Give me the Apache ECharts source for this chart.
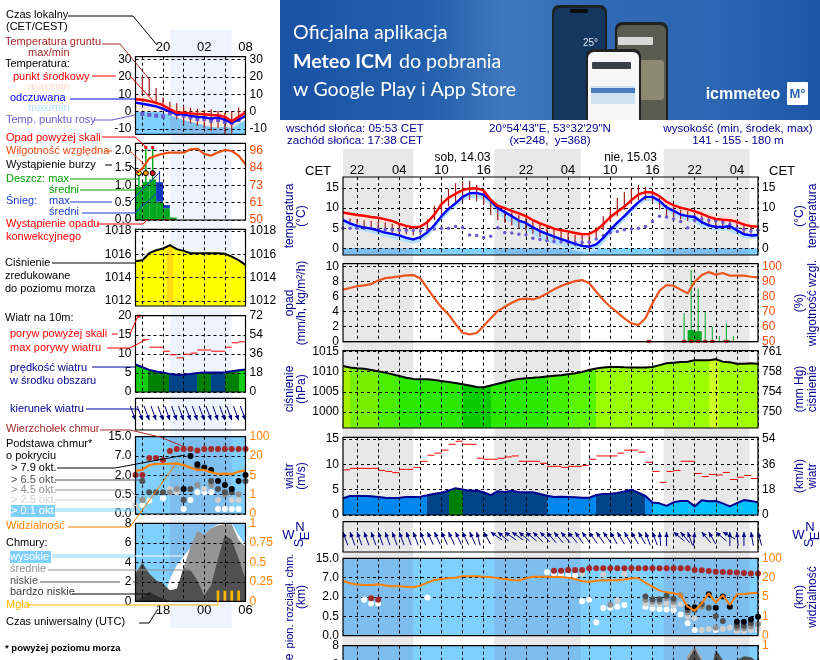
<!DOCTYPE html>
<html><head><meta charset="utf-8">
<style>html,body{margin:0;padding:0;background:#fff}#c{width:820px;height:660px}</style>
<script src="https://cdn.jsdelivr.net/npm/echarts@6/dist/echarts.min.js"></script>
</head><body><div id="c"></div>
<script>
// ---------- tick labels ----------
const cetTicks = [2,8,14,20,26,32,38,44,50,56];
const cetLabels = ['22','04','10','16','22','04','10','16','22','04'];
const gridHoursR = [2,5,8,11,14,17,20,23,26,29,32,35,38,41,44,47,50,53,56,59];
const gridHoursL = [1,4,7,10,13,16];
const cetLabelsL = ['20','02','08'];
const utcLabelsL = ['18','00','06'];
const baseKmLabels = ['0.0','0.5','2.0','7.0','15.0'];
const visKmLabels = ['0','1','5','20','100'];
const hPaTicks = [1000,1005,1010,1015];
const mmHgLabels = ['750','754','758','761'];
const nightSpansR = [[0,10],[21.5,33.8],[45.6,57.8]];
const nightSpanL = [5,14];

// ---------- right panel (60 h) ----------
const tempR = [8.9,8.6,8.3,8.1,7.8,7.6,7.2,6.8,6.1,5.6,5.2,5.4,6.5,8.4,11.0,12.6,13.6,14.5,14.9,14.9,14.4,12.1,10.6,10.0,9.3,8.7,8.0,7.0,6.2,5.6,4.9,4.5,4.2,3.8,3.5,3.6,4.5,6.0,7.8,9.1,10.4,12.0,13.4,14.0,13.9,13.0,11.6,10.7,10.1,9.7,9.2,8.6,7.8,7.3,7.1,7.0,6.6,5.9,5.5,5.4];
const feelR = [7.0,6.2,5.6,5.2,4.9,4.4,3.9,3.6,3.2,2.6,2.2,2.8,4.0,5.8,8.0,9.8,11.2,12.8,13.7,13.8,13.3,11.8,10.0,9.0,8.0,6.9,6.3,5.2,4.3,3.6,2.9,2.3,1.7,1.1,0.6,0.4,1.0,2.6,4.6,6.4,8.0,9.8,11.5,12.8,12.8,11.8,10.2,9.3,8.4,8.0,7.8,6.5,5.7,5.3,5.3,5.5,4.5,3.5,3.2,3.3];
const tempHiR = [9.0,8.7,8.4,8.2,7.9,7.7,7.3,6.9,6.3,5.9,5.6,5.8,6.9,8.9,11.5,12.8,13.8,14.7,15.2,15.2,14.6,12.4,10.9,10.2,9.6,9.0,8.4,7.4,6.6,6.0,5.3,4.9,4.5,4.1,3.8,3.9,4.8,6.3,8.1,9.4,10.7,12.3,13.7,14.3,14.2,13.3,11.9,11.0,10.4,10.1,9.7,9.4,8.8,8.4,8.2,8.0,7.5,6.8,6.2,6.0];
const tempLoR = [8.0,7.6,7.2,6.9,6.6,6.3,5.9,5.5,5.0,4.7,4.4,4.6,5.7,7.8,10.4,11.8,12.8,13.8,14.4,14.4,13.8,11.4,9.6,8.6,7.8,7.0,6.4,5.6,4.8,4.2,3.6,3.2,2.9,2.6,2.4,2.5,3.5,5.1,7.0,8.4,9.7,11.4,12.8,13.4,13.3,12.3,10.8,9.8,9.0,8.6,8.2,7.8,7.0,6.6,6.5,6.5,5.8,5.1,4.9,4.9];
const feelHiR = [7.2,6.4,5.8,5.4,5.1,4.6,4.1,3.8,3.4,2.8,2.4,3.0,4.2,6.0,8.2,10.0,11.4,13.0,13.9,14.0,13.5,12.0,10.2,9.2,8.2,7.1,6.5,5.4,4.5,3.8,3.1,2.5,1.9,1.3,0.8,0.6,1.2,2.8,4.8,6.6,8.2,10.0,11.7,13.0,13.0,12.0,10.4,9.6,8.8,8.4,8.2,7.0,6.1,5.7,5.8,6.0,5.0,4.0,3.7,3.8];
const feelLoR = [6.2,5.3,4.7,4.2,3.8,3.3,2.8,2.4,2.0,1.5,1.1,1.6,2.9,4.7,7.0,8.8,10.2,11.8,12.5,12.5,12.0,10.4,8.4,7.3,6.1,5.0,4.4,3.3,2.4,1.7,1.0,0.5,-0.1,-0.6,-1.0,-1.2,-0.5,1.2,3.3,5.2,6.9,8.8,10.5,11.8,11.8,10.8,9.2,8.2,7.4,6.9,6.4,5.2,4.6,4.4,4.4,4.2,3.4,2.5,2.4,2.5];
const dewR = [5.0,5.0,5.0,5.0,4.9,4.8,4.7,4.6,4.5,4.5,4.4,4.3,4.5,4.8,4.9,5.0,5.4,5.2,3.3,3.2,2.7,3.0,5.1,3.9,3.8,3.5,3.3,2.5,2.2,1.9,1.7,1.6,1.5,1.4,1.5,1.5,2.3,3.2,3.9,4.2,4.6,4.8,5.0,5.4,6.7,8.0,7.8,7.3,6.7,5.1,7.0,7.3,7.0,6.8,6.5,6.0,5.0,4.7,4.3,4.5];
const groundMaxR = [null,7.5,7.3,7.0,6.8,6.6,6.4,6.1,6.0,5.8,5.5,5.6,7.2,10.6,12.6,14.8,16.2,16.7,16.8,15.8,14.5,12.0,10.5,9.6,9.0,8.2,7.6,6.9,6.0,5.4,4.8,4.2,3.8,3.4,3.2,3.4,5.2,8.0,10.0,12.5,14.0,15.0,15.8,15.3,14.5,12.7,10.8,10.2,9.6,9.2,8.6,8.2,7.6,7.4,7.2,6.9,6.7,6.3,5.8,5.4];
const groundMinR = [null,5.8,5.4,5.0,4.7,4.5,4.2,3.9,3.7,3.5,3.2,3.4,4.6,7.0,7.9,10.4,11.2,11.7,12.0,11.7,10.8,8.3,7.0,6.3,5.7,5.0,4.4,3.6,2.9,2.3,1.7,1.2,0.8,0.5,0.3,0.7,2.2,4.6,6.6,8.0,9.6,11.0,12.0,12.0,11.4,9.6,8.0,7.6,7.2,6.8,6.4,6.0,5.5,5.2,5.0,4.6,4.2,3.8,3.6,3.4];
const humidR = [84.7,85.8,87.0,87.6,88.4,90.8,92.4,92.9,93.5,94.2,94.4,92.2,85.6,78.9,72.9,68.2,61.8,56.0,54.9,55.8,60.4,65.6,70.4,73.3,76.0,78.2,78.7,78.2,79.6,82.2,84.9,87.1,88.9,90.4,91.1,89.1,83.3,77.8,73.3,69.6,65.6,62.2,61.1,65.6,75.6,84.0,87.8,87.3,84.7,82.2,90.0,94.4,96.4,94.7,95.8,94.0,94.0,94.0,93.3,92.9];
const rainHoursR = [48,49,50,51,52,53,54,55];
const rainMaxR = [3.8,9.55,7.1,4.0,2.0,0.75,2.45,0.75];
const rainMeanR = [0.1,1.55,1.4,0.1,0.1,0.05,0.2,0.05];
const convectiveR = [43.5,48.5,49.5,50.5,51.5,52.5,54.5];
const pressR = [1011.4,1011.0,1010.8,1010.7,1010.4,1010.1,1009.75,1009.35,1008.9,1008.5,1008.2,1008.1,1008.1,1007.95,1007.7,1007.45,1007.2,1006.9,1006.55,1006.2,1006.15,1006.55,1007.0,1007.45,1007.85,1008.2,1008.35,1008.45,1008.6,1008.8,1008.95,1009.1,1009.35,1009.6,1009.9,1010.4,1010.75,1011.0,1011.15,1011.15,1011.05,1011.0,1011.0,1011.0,1011.15,1011.6,1012.05,1012.2,1012.35,1012.45,1012.8,1012.8,1012.8,1013.05,1012.45,1012.3,1011.95,1011.95,1012.05,1011.95];
const pressBandsR = [[1,'#a4f000'],[5,'#77ee00'],[8,'#4cee00'],[17,'#2ce800'],[21,'#08cc00'],[29,'#2ce800'],[32,'#44f000'],[36,'#5cf500'],[52,'#99ff00'],[53.4,'#ccff22'],[59,'#a0ff00']];
const windR = [3.3,3.75,3.75,3.75,3.7,3.55,3.4,3.35,3.4,3.55,3.55,3.6,3.9,4.2,4.4,4.8,5.3,5.05,4.8,4.85,4.5,3.9,4.7,4.55,4.8,4.5,4.5,4.5,4.15,3.8,3.55,3.6,3.55,3.5,3.4,3.4,3.95,4.15,4.2,4.35,4.65,5.0,4.4,3.75,2.45,2.3,1.8,2.5,2.75,2.75,1.7,2.9,2.7,2.75,2.3,1.7,2.35,2.95,2.75,2.5];
const gustR = [8.9,9.2,9.2,9.2,9.2,8.8,8.6,8.35,9.0,9.0,9.4,10.6,11.8,12.2,12.8,13.95,14.55,13.95,13.95,11.2,11.0,11.0,11.2,11.45,11.65,10.6,10.6,10.6,10.2,9.6,9.6,9.4,9.6,9.6,9.8,11.0,11.65,11.65,11.65,12.2,12.8,12.8,12.4,10.4,8.6,6.45,8.6,8.8,10.6,10.6,8.2,7.6,8.0,7.9,8.4,7.0,7.45,7.8,7.2];
const windBandsR = [[12,'#0088ee'],[15,'#004488'],[17,'#008000'],[29,'#004488'],[36,'#0088ee'],[43,'#004488'],[44,'#0088ee'],[59,'#00c0ff']];
const windFromR = [160,160,160,160,160,160,160,160,160,160,160,158,155,155,155,155,155,155,155,165,150,125,130,125,125,130,130,135,135,140,140,140,140,145,145,145,145,145,150,150,150,150,150,160,160,175,180,130,140,160,185,140,150,130,120,180,175,180,170,165];
const topR = [[4,1.93],[5,1.86],[30,3.36],[31,3.36],[32,3.4],[33,3.4],[34,3.4],[35,3.48],[36,3.48],[37,3.48],[38,3.48],[39,3.48],[40,3.48],[41,3.48],[42,3.48],[43,3.48],[44,3.48],[45,3.48],[46,3.48],[47,3.48],[48,3.48],[49,3.48],[50,3.4],[51,3.38],[52,3.35],[53,3.31],[54,3.29],[55,3.28],[56,3.26],[57,3.24],[58,3.22],[59,3.21]];
const base79R = [[49,1.47],[50,1.47],[52,2.14],[53,1.45],[54,2.02],[55,1.5],[56,0.72],[57,0.72],[58,0.84],[59,0.98]];
const base65R = [[43,2.02],[44,1.88],[45,1.88],[46,2.07],[47,1.91],[49,1.33],[50,1.33],[51,1.62],[52,1.45],[53,1.0],[54,0.76],[56,0.52],[57,0.52],[58,0.64]];
const base45R = [[38,1.6],[43,1.84],[44,1.76],[45,1.76],[46,1.93],[47,1.76],[48,2.1],[49,1.2],[51,1.5],[53,0.41],[56,0.38],[57,0.38],[58,0.47],[59,0.6]];
const base25R = [[34,3.2],[37,3.15],[38,1.6],[39,1.8],[40,3.2],[43,1.67],[44,1.62],[45,1.62],[46,1.67],[47,1.55],[48,1.62],[49,0.98],[50,0.9],[51,0.29],[52,0.34],[54,0.34],[55,0.41],[56,0.24],[57,0.24],[58,0.29],[59,0.35]];
const base01R = [[3,1.86],[4,1.67],[5,1.67],[12,1.97],[29,3.28],[30,3.21],[31,3.14],[32,3.1],[33,3.1],[34,1.78],[35,1.86],[36,0.69],[37,1.43],[38,1.45],[39,1.5],[40,1.59],[43,1.5],[44,1.41],[45,1.38],[46,1.36],[47,1.33],[48,1.1],[49,0.64],[50,0.29],[53,0.29],[59,0.3]];
const visR = [2.84,2.71,2.64,2.62,2.62,2.66,2.59,2.55,2.55,2.53,2.5,2.59,2.74,2.88,2.93,2.97,3.0,3.07,3.07,3.07,3.05,3.03,2.97,2.93,2.88,2.86,2.97,3.05,3.05,3.05,3.03,3.03,3.0,2.93,2.81,2.79,2.84,2.86,2.86,2.86,2.91,2.97,2.97,2.74,2.53,2.33,2.24,2.19,2.1,1.5,1.29,1.67,2.19,1.71,2.1,1.59,2.14,2.16,2.19,2.22];
const cloudMidR = [0,0,0,0,0,0,0,0,0,0,0,0,0,0,0,0,0,0,0,0,0,0,0,0,0,0,0,0,0,0,0,0,0,0,0,0,0,0,0,0,0,0,0,0,0,0,0,2.0,4.5,7.0,8.0,6.7,4.5,6.0,5.0,3.0,2.0,2.0,2.0,2.0];
const cloudLowR = [0,0,0,0,0,0,0,0,0,0,0,0,0,0,0,0,0,0,0,0,0,0,0,0,0,0,0,0,0,0,0,0,0,0,0,0,0,0,0,0,0,0,0,0,0,0,0,0,2.0,6.5,7.7,6.3,4.5,7.6,6.5,4.0,6.5,6.9,6.8,6.3];

// ---------- left legend panel (16 h) ----------
const tempL = [7.1,6.8,6.0,5.0,3.7,1.4,-0.6,-0.6,-1.0,-1.4,-1.5,-1.9,-2.1,-3.0,-5.5,-3.0,-0.5];
const feelL = [5.2,4.5,3.8,3.0,1.6,0.2,-1.6,-1.6,-2.4,-3.0,-3.2,-4.0,-3.4,-4.6,-6.5,-4.5,-2.5];
const tempHiL = [10,9.5,9,7.5,6,4,3,2.5,2,1.5,1,0.5,0.3,0.2,-0.8,0,2];
const skyTopL = [0,0,0,0,-0.5,-2,-3.5,-5,-6,-7,-8,-9,-9.3,-8.5,-9.5,-7,-5];
const dewL = [null,-1.35,-1.9,-2.3,-2.7,-1,-1.35,-2.3,-3.3,-4.2,-4.2,-5.2,-4.8,-5.8,-6.5,-4.8,null];
const groundMaxL = [null,20.6,19,13.5,8.1,5.6,4.8,3.3,2.3,1.7,1,1.4,0.4,-0.6,0.4,2.3,null];
const groundMinL = [null,10,9,4.2,2.3,1.5,-4.4,-7.3,-6.8,-8.3,-9.3,-11.2,-9.3,-13,-12.5,-4.4,null];
const humidL = [81,84.3,90.9,92.7,94,94.7,94.7,94.7,96.9,97.3,93.8,92.7,94.9,96.5,95.8,92.7,87];
const rainMeanL = [0.96,1.1,1.17,0.53,0.34,0.07];
const snowMeanL = [0,0,0,0.56,0.09,0];
const rainMaxL = [1.35,2.1,2.1];
const snowMaxHourL = 3; const snowMaxL = 1.41;
const thunderColors = ['#ffee00','#ff9900','#e81010'];
const overScaleHoursL = [1.5,2.5];
const pressL = [1015.4,1015.5,1016.1,1016.35,1016.5,1016.8,1016.45,1016.3,1016.1,1016.1,1016.1,1016.1,1016.1,1016.05,1015.8,1015.5,1015.1];
const pressBandsL = [[4.6,'#ffff00'],[5.4,'#ffd814'],[16,'#ffff00']];
const windL = [7.2,6.5,5.8,5.35,5.1,4.75,4.5,4.5,4.75,5,5.1,5.1,5.1,5.2,5.45,5.7,5.9];
const gustL = [null,13.7,11.75,11.75,10.7,9.75,8.95,9.9,10.2,11,11,10.7,10.7,11.75,12.9,13.15];
const windBandsL = [[1.8,'#11cc11'],[4.9,'#008000'],[8.9,'#004488'],[11,'#008000'],[13,'#004488'],[15,'#008000'],[16,'#11cc11']];
const windFromL = [340,340,340,340,340,340,340,340,340,340,340,340,340,340,340,340,340];
const topL = [[0,2.02],[1,2.02],[2,2.9],[3,2.9],[4,2.79],[5,3.26],[6,3.36],[7,3.36],[8,3.36],[9,3.28],[10,3.36],[11,3.36],[12,3.36],[13,3.36],[14,3.36],[15,3.36],[16,3.36]];
const base79L = [[7,1.29],[8,3.0],[9,2.57],[10,2.4],[11,2.28],[12,1.71],[13,1.5],[14,1.29],[15,1.71],[16,2.02]];
const base65L = [[1,1.71],[2,1.12],[3,1.12],[4,1.12],[7,0.72],[8,1.29],[9,2.4],[11,1.71],[12,1.29],[13,1.12],[14,1.12],[16,1.71]];
const base45L = [[1,0.72],[5,1.12],[6,1.29],[9,1.5],[11,1.5],[13,1.02],[15,1.02]];
const base25L = [[0,0.43],[5,1.29],[6,1.12],[10,1.29],[12,0.72],[14,0.72],[15,0.72]];
const base01L = [[1,0.47],[2,0.69],[4,0.81],[5,1.12],[7,0.26],[8,0.72],[9,1.12],[10,1.12],[11,1.12],[12,0.26],[13,0.26],[14,0.26],[15,0.26]];
const visL = [2.24,2.28,2.53,2.59,2.6,2.6,2.62,2.53,2.4,2.28,2.28,2.16,2.07,2.09,2.07,2.19,2.26];
const cloudHighL = [0,0,0,0,0,2.3,3.7,4.6,5.5,5.8,6.3,7.5,7.9,8,8,6.8,5.8];
const cloudMidL = [0,0,0,0,0,0,0.96,3.5,5.6,7.2,6.8,7.5,7.8,7.9,7.9,6.3,5.6];
const cloudLowL = [2.85,3.95,2.85,2.16,1.8,1.13,1.3,3.4,3.2,2.16,0.62,1.65,4.4,6.8,6.3,4.4,2.3];
const cloudVeryLowL = [0,0.45,0.96,0.6,0.27,0,0,0,0,0,0,0,0,0,0,0,0];
const fogHoursL = [12,13,14,15];
const fogL = [1.1,1.1,1.1,1.1];

// ---------- layout ----------
const FONT = '"Liberation Sans",Arial,sans-serif';
const NAVY = '#000090', ORANGE = '#ff8000', HUM = '#f04a10';
const R = {x:343,w:415,n:59,lines:gridHoursR}, L = {x:135.5,w:110,n:16,lines:gridHoursL};
const panels = [[R,177,78],[R,263.7,78],[R,350.7,77.3],[R,437.3,77.7],[R,521.7,30.3],[R,558.3,77.4],[R,645.7,77.3],
                [L,56.7,77.6],[L,143.3,76.7],[L,229.3,76.7],[L,315.7,76.3],[L,398.3,31.7],[L,436.7,77.3],[L,523.3,78]];
const grid=[], xAxis=[], yAxis=[], series=[];
panels.forEach(([P,top,h])=>{
  const g=grid.length;
  grid.push({left:P.x,top,width:P.w,height:h,show:false,outerBoundsMode:'none'});
  xAxis.push({type:'value',gridIndex:g,min:0,max:P.n,z:5,axisLine:{show:false},
    axisTick:{show:false,customValues:P.lines},axisLabel:{show:false},
    splitLine:{show:true,lineStyle:{color:'#000',type:[3,3],width:1}}});
});
function yAxes(g,lo,hi,ticksL,labL,ticksR,labR,colR,loR,hiR){
  const mk=(pos,ticks,labs,col,split,a,b)=>({type:'value',gridIndex:g,position:pos,min:a,max:b,z:5,
    axisLine:{show:false},axisTick:{show:false,customValues:ticks||[]},
    axisLabel:{show:!!ticks,customValues:ticks||[],margin:4,color:col||'#000',fontFamily:FONT,fontSize:12,
      formatter:v=>{const i=(ticks||[]).indexOf(v);return labs&&i>=0?labs[i]:String(v);}},
    splitLine:{show:split,lineStyle:{color:'#000',type:[3,3],width:1}}});
  yAxis.push(mk('left',ticksL,labL,'#000',!!ticksL,lo,hi));
  yAxis.push(mk('right',ticksR,labR,colR,false,loR===undefined?lo:loR,hiR===undefined?hi:hiR));
}
const POS=[0,1,2,3,4];
yAxes(0,-1.67,17.75,[0,5,10,15],null,[0,5,10,15],null);
yAxes(1,0,10.4,[0,2,4,6,8,10],null,[50,60,70,80,90,100],null,HUM,50,102);
yAxes(2,996.07,1015.16,hPaTicks,null,hPaTicks,mmHgLabels);
yAxes(3,0,15.33,[0,5,10,15],null,[0,5,10,15],['0','18','36','54']);
yAxes(4,0,1);
yAxes(5,0,4,POS,baseKmLabels,POS,visKmLabels,ORANGE);
yAxes(6,0,8,[0,2,4,6,8],null,[8],['1'],ORANGE);
yAxes(7,-13,31.5,[-10,0,10,20,30],null,[-10,0,10,20,30],null);
yAxes(8,0,2.21,[0,0.5,1,1.5,2],['0.0','0.5','1.0','1.5','2.0'],[50,61.5,73,84.5,96],['50','61','73','84','96'],HUM,50,100.9);
yAxes(9,1011.57,1018.15,[1012,1014,1016,1018],null,[1012,1014,1016,1018],null);
yAxes(10,0,20,[0,5,10,15,20],null,[0,5,10,15,20],['0','18','36','54','72']);
yAxes(11,0,1);
yAxes(12,0,4,POS,baseKmLabels,POS,visKmLabels,ORANGE);
yAxes(13,0,8,[0,2,4,6,8],null,[0,2,4,6,8],['0','0.25','0.5','0.75','1'],ORANGE);
// hour labels
const hourLab=(ax,pos,ticks,labs,fs,m)=>{ax.position=pos;ax.axisLabel={show:true,customValues:ticks,margin:m,color:'#000',fontFamily:FONT,fontSize:fs||12,
  formatter:v=>labs[ticks.indexOf(v)]||''};};
hourLab(xAxis[0],'top',cetTicks,cetLabels,13,0);
hourLab(xAxis[7],'top',[4,10,16],cetLabelsL,13,3);
hourLab(xAxis[13],'bottom',[4,10,16],utcLabelsL,13,3);

// ---------- series helpers ----------
const ax=(g,right)=>({xAxisIndex:g,yAxisIndex:g*2+(right?1:0)});
const idx=(a,s)=>a.map((v,i)=>[i+(s||0),v]);
function line(g,ys,color,width,z,right){series.push({type:'line',...ax(g,right),data:idx(ys),showSymbol:false,symbol:'none',silent:true,
  lineStyle:{color,width},z:z||6,animation:false,connectNulls:false});}
function area(g,ys,fill,z){series.push({type:'line',...ax(g),data:idx(ys),showSymbol:false,symbol:'none',silent:true,
  lineStyle:{width:0,opacity:0},areaStyle:{color:fill,opacity:1},z:z||1,animation:false});}
function stepFill(bands,n){const s=[];let p=0;bands.forEach(([e,c])=>{s.push({offset:p/n,color:c},{offset:e/n,color:c});p=e;});
  return new echarts.graphic.LinearGradient(0,0,1,0,s);}
function band(g,from,lo,hi,color,z){ // polygon between two lists
  series.push({type:'custom',...ax(g),data:[[from,0]],z:z||1,silent:true,animation:false,clip:true,
    renderItem:(p,api)=>{const pts=[];hi.forEach((v,i)=>pts.push(api.coord([i+from,v])));
      for(let i=lo.length-1;i>=0;i--)pts.push(api.coord([i+from,lo[i]]));
      return {type:'polygon',shape:{points:pts},style:{fill:color}};}});}
function rects(g,rows,color,z,right){ // rows: x0,y0,x1,y1
  series.push({type:'custom',...ax(g,right),data:rows,z:z||1,silent:true,animation:false,
    renderItem:(p,api)=>{const a=api.coord([api.value(0),api.value(1)]),b=api.coord([api.value(2),api.value(3)]);
      return {type:'rect',shape:{x:a[0],y:b[1],width:b[0]-a[0],height:a[1]-b[1]},style:{fill:color}};}});}
function segs(g,rows,color,w,z){ // rows: x0,y0,x1,y1
  series.push({type:'custom',...ax(g),data:rows,z:z||6,silent:true,animation:false,
    renderItem:(p,api)=>{const a=api.coord([api.value(0),api.value(1)]),b=api.coord([api.value(2),api.value(3)]);
      return {type:'line',shape:{x1:a[0],y1:a[1],x2:b[0],y2:b[1]},style:{stroke:color,lineWidth:w}};}});}
function dots(g,rows,color,size,sym,z,border){series.push({type:'scatter',...ax(g),data:rows,symbol:sym||'circle',symbolSize:size,silent:true,animation:false,
  itemStyle:{color,opacity:1,borderColor:border||color,borderWidth:border?1:0},z:z||6});}
function arrows(g,dirs,yVal,len){series.push({type:'custom',...ax(g),data:dirs.map((d,i)=>[i,yVal,d]),z:6,silent:true,animation:false,
  renderItem:(p,api)=>{const c=api.coord([api.value(0),api.value(1)]),t=(api.value(2)+180)*Math.PI/180;
    const dx=Math.sin(t),dy=-Math.cos(t),tx=c[0]-dx*len,ty=c[1]-dy*len,bx=c[0]-dx*5,by=c[1]-dy*5;
    return {type:'group',children:[
      {type:'line',shape:{x1:tx,y1:ty,x2:c[0],y2:c[1]},style:{stroke:'#000080',lineWidth:1}},
      {type:'polygon',shape:{points:[[c[0],c[1]],[bx-dy*2.2,by+dx*2.2],[bx+dy*2.2,by-dx*2.2]]},style:{fill:'#000080'}}]};}});}
const BLUE='#80d0ff', TINT='#7dbeee';

// ---------- right: temperature ----------
rects(0,[[0,-1.67,59,0]],BLUE,1);
rects(0,nightSpansR.map(s=>[s[0],-1.67,s[1],0]),TINT,1);
band(0,0,tempLoR,tempHiR,'#ffe0da',2);
band(0,0,feelLoR,feelHiR,'#b4e0ff',2);
segs(0,groundMaxR.map((v,i)=>[i,v,i,groundMinR[i]]).filter(r=>r[1]!=null),'#a01c1c',1.2,6);
dots(0,idx(dewR),'#6a5ad0',3.5,'circle',6);
line(0,feelR,'#0000ff',2.4,7);
line(0,tempR,'#ff0000',2.4,8);
// right: rain + humidity
rects(1,rainHoursR.map((h,i)=>[h,0,h+1,rainMeanR[i]]),'#00a820',2);
segs(1,rainHoursR.map((h,i)=>[h+0.5,0,h+0.5,rainMaxR[i]]),'#00a820',1,6);
dots(1,convectiveR.map(h=>[h,0.05]),'#d02020',[4,3],'rect',7);
segs(1,[[0,0,59,0]],'#7a3a20',1,6);
line(1,humidR,'#ec5420',2.2,8,true);
// right: pressure
area(2,pressR,stepFill(pressBandsR,59));
line(2,pressR,'#000',2,6);
// right: wind
area(3,windR,stepFill(windBandsR,59));
line(3,windR,'#000090',2,6);
segs(3,gustR.map((v,h)=>[h,v,h+1,v]),'#ff0000',1,6);
// right: direction
arrows(4,windFromR,0.66,14);
// right: cloud base
rects(5,[[0,0,59,4]],BLUE,1);
rects(5,nightSpansR.map(s=>[s[0],0,s[1],4]),TINT,1);
dots(5,base01R,'#ffffff',6); dots(5,base25R,'#d0d0d0',6); dots(5,base45R,'#909090',6); dots(5,base65R,'#505050',6); dots(5,base79R,'#000000',6);
dots(5,topR,'#a52a2a',6);
line(5,visR,ORANGE,2,8);
// right: clouds
rects(6,[[0,0,59,8]],BLUE,1);
rects(6,nightSpansR.map(s=>[s[0],0,s[1],8]),TINT,1);
area(6,cloudMidR,'#a0a0a0',2);
area(6,cloudLowR,'#505050',3);

// ---------- left: temperature ----------
band(7,0,skyTopL,tempHiL,'#ffeadf',1);
band(7,0,skyTopL.map(()=>-13),skyTopL,BLUE,2);
band(7,5,skyTopL.slice(5,15).map(()=>-13),skyTopL.slice(5,15),TINT,2);
segs(7,groundMaxL.map((v,i)=>[i,v,i,groundMinL[i]]).filter(r=>r[1]!=null),'#a01c1c',1.2,6);
dots(7,idx(dewL).filter(r=>r[1]!=null),'#6a5ad0',4,'rect',6);
line(7,feelL,'#0000ff',2.4,7);
line(7,tempL,'#ff0000',2.4,8);
// left: rain
rects(8,rainMeanL.map((v,h)=>[h,0,h+1,v]),'#00a820',2);
rects(8,snowMeanL.map((v,h)=>[h,rainMeanL[h],h+1,rainMeanL[h]+v]).filter(r=>r[3]>r[1]),'#1038c0',2);
segs(8,rainMaxL.map((v,i)=>[i+0.5,0,i+0.5,v]),'#00a820',1.5,6);
segs(8,[[snowMaxHourL+0.5,1,snowMaxHourL+0.5,snowMaxL]],'#1038c0',1,6);
rainMaxL.forEach((v,i)=>dots(8,[[i+0.5,1.35]],thunderColors[i],5,'circle',7,'#000'));
dots(8,overScaleHoursL.map(h=>[h,2.09]),'#f01010',3,'rect',7);
segs(8,rainMeanL.map((v,h)=>[h+0.2,0.01,h+0.7,0.01]),'#e81010',1,7);
line(8,humidL,'#e8500f',2.2,8,true);
// left: pressure
area(9,pressL,stepFill(pressBandsL,16));
line(9,pressL,'#000',2,6);
// left: wind
area(10,windL,stepFill(windBandsL,16));
line(10,windL,'#000090',2,6);
segs(10,gustL.map((v,h)=>[h,v,h+1,v]).filter(r=>r[1]!=null),'#ff0000',1,6);
dots(10,[[0.5,19.9]],'#f01010',3,'rect',7);
// left: direction
arrows(11,windFromL,0.31,15);
// left: cloud base
rects(12,[[0,0,16,4]],BLUE,1);
rects(12,[[nightSpanL[0],0,nightSpanL[1],4]],TINT,1);
dots(12,base01L,'#ffffff',6); dots(12,base25L,'#d0d0d0',6); dots(12,base45L,'#909090',6); dots(12,base65L,'#505050',6); dots(12,base79L,'#000000',6);
dots(12,topL,'#a52a2a',6);
line(12,visL,ORANGE,2.2,8);
// left: clouds
rects(13,[[0,0,16,8]],BLUE,1);
rects(13,[[nightSpanL[0],0,nightSpanL[1],8]],TINT,1);
area(13,cloudHighL,'#ffffff',2);
area(13,cloudMidL,'#959595',3);
area(13,cloudLowL,'#505050',4);
area(13,cloudVeryLowL,'#2e2e2e',4.5);
rects(13,fogHoursL.map((h,i)=>[h-0.2,0,h+0.2,fogL[i]]),'#ffb400',6);

// ---------- graphic: background, frames, banner, texts, leader lines ----------
const G=[];
const xR=h=>R.x+h*R.w/59, xL=h=>L.x+h*L.w/16;
nightSpansR.forEach(s=>G.push({type:'rect',shape:{x:xR(s[0]),y:149,width:xR(s[1])-xR(s[0]),height:511},style:{fill:'#e8e8e8'},z:-1}));
G.push({type:'rect',shape:{x:xL(nightSpanL[0]),y:30,width:xL(nightSpanL[1])-xL(nightSpanL[0]),height:598},style:{fill:'#eef4fd'},z:-1});
panels.forEach(([P,top,h])=>G.push({type:'rect',shape:{x:P.x,y:top,width:P.w,height:h},style:{fill:'none',stroke:'#000',lineWidth:1.2},z:20}));
const T=(text,x,y,color,o={})=>G.push({type:'text',x,y,z:30,style:{text,fill:color||'#000',font:`${o.w||'normal'} ${o.s||11}px ${o.f||FONT}`,
  align:o.a||'left',verticalAlign:'middle',textAlign:o.a||'left',textVerticalAlign:'middle'},rotation:o.r||0});
const V=(text,x,y,o={})=>T(text,x,y,NAVY,{a:'center',r:Math.PI/2,s:12,...o});
const PL=(pts,color,w)=>G.push({type:'polyline',shape:{points:pts},style:{stroke:color,lineWidth:w||1,fill:'none'},z:25});

// banner
G.push({type:'rect',shape:{x:280,y:0,width:540,height:120},z:-1,style:{fill:new echarts.graphic.LinearGradient(0,0,1,0,[
  {offset:0,color:'#1a52a6'},{offset:0.28,color:'#2460ac'},{offset:0.42,color:'#3f78be'},{offset:0.56,color:'#2f6ab4'},{offset:0.8,color:'#2d66b2'},{offset:1,color:'#1c56a8'}])}});
T('Oficjalna aplikacja',293,33,'#fff',{s:19.6,f:'Lato'});
T('Meteo ICM',293,62,'#fff',{s:19.6,f:'Lato',w:'bold'});
T('do pobrania',399,62,'#fff',{s:19.6,f:'Lato'});
T('w Google Play i App Store',293,90,'#fff',{s:19.6,f:'Lato'});
const rr=(x,y,w,h,fill,r)=>G.push({type:'rect',shape:{x,y,width:w,height:h,r:r||0},style:{fill},z:2});
rr(552,5,55,115,'#1c1f24',[7,7,0,0]); rr(554,8,51,112,'#14365f',[6,6,0,0]); rr(570,9,18,4,'#0b0b0b',2);
rr(615,22,53,98,'#20221f',[7,7,0,0]); rr(617,25,49,95,'#5a5c52',[6,6,0,0]); rr(618,37,35,8,'#d8d8d4',1);
rr(634,60,30,40,'#8d8a72',4);
rr(586,49,55,71,'#202226',[7,7,0,0]); rr(588,52,51,68,'#f7f7f7',[6,6,0,0]); rr(592,62,39,7,'#3a3f46',1); rr(591,86,44,18,'#cfe2f3',0); rr(591,88,44,5,'#4a7dc0',0);
T('25°',583,43,'#dfe6f0',{s:10});
T('icmmeteo',743,95,'#fff',{s:16,w:'bold',a:'center'});
rr(787,82,21,23,'#fff',1);
T('M°',797.5,94,'#2a64b0',{s:13,w:'bold',a:'center'});

// header
const H=[['wschód słońca: 05:53 CET',355,129],['zachód słońca: 17:38 CET',355,141],['20°54\'43"E, 53°32\'29"N',550,129],['(x=248,  y=368)',550,141],['wysokość (min, środek, max)',738,129],['141 - 155 - 180 m',738,141]];
H.forEach(h=>T(h[0],h[1],h[2],NAVY,{a:'center',s:11.6}));
T('sob, 14.03',462.5,158,'#000',{a:'center',s:12}); T('nie, 15.03',630.5,158,'#000',{a:'center',s:12});
T('CET',318,171,'#000',{a:'center',s:13}); T('CET',782,171,'#000',{a:'center',s:13});
// axis names
const vpairs=[[216,'temperatura','(°C)','(°C)','temperatura'],[303,'opad','(mm/h, kg/m²/h)','(%)','wilgotność wzgl.'],[389,'ciśnienie','(hPa)','(mm Hg)','ciśnienie'],[476,'wiatr','(m/s)','(km/h)','wiatr']];
vpairs.forEach(([y,a,b,c,d])=>{V(a,290,y);V(b,302,y);V(c,800,y);V(d,813,y);});
V('pion. rozciągł. chm.',290,601,{s:11});V('(km)',302,597);V('(km)',800,597);V('widzialność',813,597);
V('e',290,657);
[0,510].forEach(ox=>{
  T('W',288.5+ox,535,NAVY,{a:'center',s:13});T('N',300+ox,527,NAVY,{a:'center',s:13});
  T('E',305+ox,536,NAVY,{a:'center',s:13,r:Math.PI/2});T('S',299+ox,543,NAVY,{a:'center',s:13,r:Math.PI/2});});

// left legend texts
const BR='#a52a2a',LB='#b0e0ff',RED='#ff0000',GRN='#00a000',BL='#1c3ccc';
const legend=[['Czas lokalny',6,15,'#000'],['(CET/CEST)',6,27,'#000'],['Temperatura gruntu',5,42,BR],['max/min',28,53,BR],['Temperatura:',5,64,'#000'],
['punkt środkowy',13,77,RED],['max/min',28,87,'#ffd9cc'],['odczuwana',10,98,'#0000ff'],['max/min',28,108,LB],['Temp. punktu rosy',6,120,'#6a5acd'],
['Opad powyżej skali',6,138,RED],['Wilgotność względna',6,151,HUM],['Wystąpienie burzy',6,165,'#000'],['Deszcz: max',6,179,GRN],['średni',49,190,GRN],
['Śnieg:',6,201,BL],['max',49,201,BL],['średni',49,212,BL],['Wystąpienie opadu',6,224,RED],['konwekcyjnego',6,237,RED],
['Ciśnienie',5,263,'#000'],['zredukowane',5,276,'#000'],['do poziomu morza',5,289,'#000'],['Wiatr na 10m:',5,318,'#000'],['poryw powyżej skali',10,334,RED],['max porywy wiatru',10,348,RED],
['prędkość wiatru',10,368,NAVY],['w środku obszaru',10,381,NAVY],['kierunek wiatru',10,409,NAVY],['Wierzchołek chmur',6,429,BR],
['Podstawa chmur*',6,444,'#000'],['o pokryciu',6,456,'#000'],['> 7.9 okt.',11,468,'#000'],['> 6.5 okt.',11,480,'#505050'],['> 4.5 okt.',11,490,'#909090'],['> 2.5 okt.',11,500,'#d0d0d0'],
['Widzialność',6,526,ORANGE],['Chmury:',6,543,'#000'],['średnie',10,569,'#909090'],['niskie',10,581,'#505050'],['bardzo niskie',10,592,'#404040'],['Mgła',6,605,'#ffb400'],
['Czas uniwersalny (UTC)',6,622,'#000']];
legend.forEach(l=>T(l[0],l[1],l[2],l[3]));
rr(11,505,44,12,BLUE,0); T('> 0.1 okt.',11,511,'#fff');
rr(10,551,41,12,BLUE,0); T('wysokie',10,556.5,'#fff');
T('* powyżej poziomu morza',5,648,'#000',{s:9.5,w:'bold'});
// leader lines
PL([[68,16],[133,16],[157,45]],'#000');
PL([[102,44],[120,44],[150,80]],BR);
PL([[92,76],[116,76]],RED); PL([[130,76],[155,103]],RED);
PL([[70,99],[136,99]],'#0000ff');
PL([[94,120],[112,120],[135,115]],'#6a5acd');
PL([[102,137],[135,137],[146,147]],RED);
PL([[105,151],[112,151]],HUM); PL([[130,151],[145,165]],HUM);
PL([[105,165],[112,165]],'#000'); PL([[130,165],[139,173]],'#000');
PL([[70,179],[139,179]],GRN); PL([[80,190],[135,190]],GRN);
PL([[70,202],[112,202]],BL); PL([[130,202],[160,172]],BL);
PL([[82,213],[135,213],[160,190]],BL);
PL([[97,224],[143,224],[147,220]],RED);
PL([[52,263],[135,263]],'#000');
PL([[112,334],[118,334]],RED); PL([[130,334],[138,316]],RED);
PL([[107,348],[130,348],[145,340]],RED);
PL([[92,367],[135,367]],NAVY);
PL([[86,409],[137,409],[140,412]],NAVY);
PL([[100,430],[130,430],[160,437],[185,447]],BR);
PL([[57,468],[115,468],[185,455]],'#000');
PL([[55,480],[142,480]],'#505050');
PL([[55,490],[130,490],[140,500]],'#909090');
PL([[55,500],[130,500],[140,510]],'#d0d0d0');
PL([[55,509],[135,509]],BLUE); PL([[55,511],[135,511]],BLUE);
PL([[68,527],[130,527],[175,465]],ORANGE);
PL([[52,555],[135,555]],BLUE); PL([[52,557],[135,557]],BLUE); PL([[135,556],[185,556]],'#fff');
PL([[48,570],[193,570]],'#909090');
PL([[40,582],[120,582]],'#505050'); PL([[133,582],[142,582]],'#505050');
PL([[72,594],[150,594]],'#000');
PL([[27,605],[218,605],[218,600]],'#ffb400');
PL([[139,623],[149,623],[158,609]],'#000');

const chart=echarts.init(document.getElementById('c'),null,{renderer:'canvas',width:820,height:660});
chart.setOption({animation:false,backgroundColor:'#fff',grid,xAxis,yAxis,series,graphic:{elements:G}});
</script></body></html>
